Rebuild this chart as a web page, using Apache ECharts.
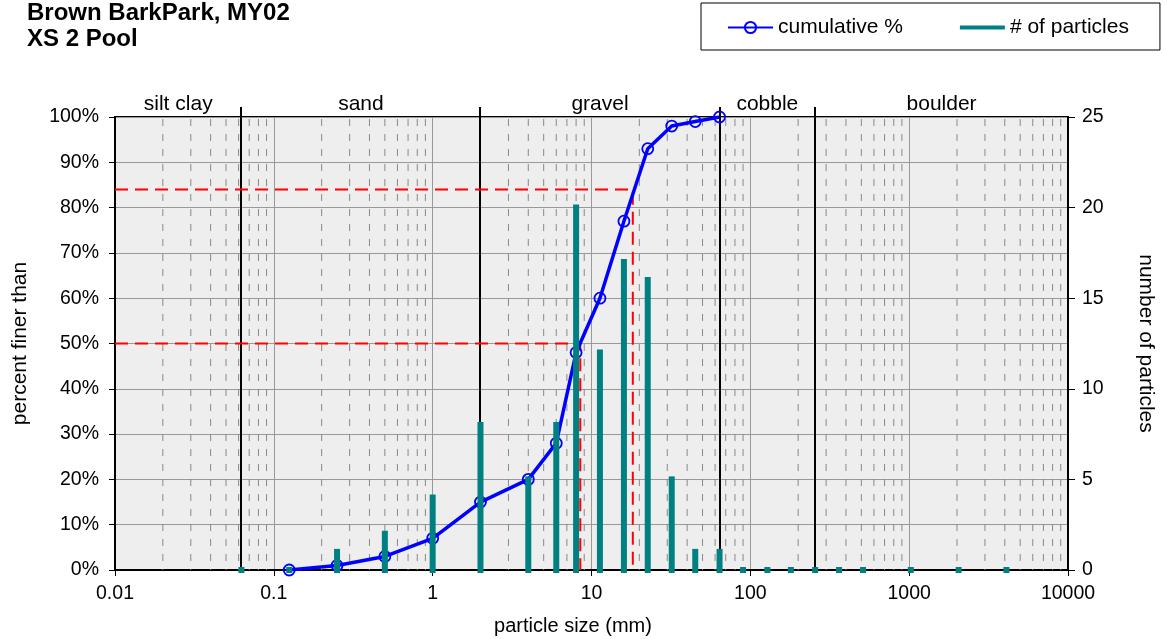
<!DOCTYPE html>
<html>
<head>
<meta charset="utf-8">
<script src="https://cdn.jsdelivr.net/npm/echarts@6/dist/echarts.min.js"></script>
<style>
html,body{margin:0;padding:0;background:#fff;}
#chart{width:1167px;height:639px;}
</style>
</head>
<body>
<div id="chart"></div>
<script>
// ---- data ----
const titleLines = ['Brown BarkPark, MY02', 'XS 2 Pool'];
const sizes = [0.0625, 0.125, 0.25, 0.5, 1, 2, 4, 6, 8, 11.3, 16, 22.6, 32, 45, 64, 90, 128, 180, 256, 362, 512, 1024, 2048, 4096];
const counts = [0, 0, 1, 2, 4, 8, 5, 8, 20, 12, 17, 16, 5, 1, 1, 0, 0, 0, 0, 0, 0, 0, 0, 0];
const cumSizes = [0.125, 0.25, 0.5, 1, 2, 4, 6, 8, 11.3, 16, 22.6, 32, 45, 64];
const cumPct = [0, 1, 3, 7, 15, 20, 28, 48, 60, 77, 93, 98, 99, 100];
const d50 = 8.5, d84 = 18.2;
const classNames = ['silt clay', 'sand', 'gravel', 'cobble', 'boulder'];
const classBounds = [0.01, 0.0625, 2, 64, 256, 10000];
const xTickLabels = ['0.01', '0.1', '1', '10', '100', '1000', '10000'];
const leftTickLabels = ['0%', '10%', '20%', '30%', '40%', '50%', '60%', '70%', '80%', '90%', '100%'];
const rightTickLabels = ['0', '5', '10', '15', '20', '25'];
const decades = [0.01, 0.1, 1, 10, 100, 1000];
const minorMultipliers = [2, 3, 4, 5, 6, 7, 8, 9];

const FONT = '"Liberation Sans", Arial, sans-serif';
const minorGrid = [];
decades.forEach(d => minorMultipliers.forEach(m => minorGrid.push([+(d * m).toPrecision(3)])));

const chart = echarts.init(document.getElementById('chart'), null, {renderer: 'canvas'});

const option = {
  backgroundColor: '#ffffff',
  animation: false,
  textStyle: {fontFamily: FONT, color: '#000'},
  title: {
    text: titleLines.join('\n'),
    left: 27, top: 0, padding: 0,
    textStyle: {fontFamily: FONT, fontSize: 24, fontWeight: 'bold', color: '#000', lineHeight: 26}
  },
  legend: {
    left: 701, top: 3,
    padding: [14, 31, 12, 26],
    itemGap: 57, itemWidth: 45, itemHeight: 14,
    borderColor: '#000', borderWidth: 1, backgroundColor: '#fff',
    textStyle: {fontFamily: FONT, fontSize: 21, color: '#000'},
    data: [
      {name: 'cumulative %'},
      {name: '# of particles', icon: 'path://M0 0H45V4H0Z', itemStyle: {color: '#008080'}}
    ]
  },
  grid: {
    left: 115, top: 117, right: 99, bottom: 69,
    show: true, backgroundColor: '#eeeeee', borderColor: '#000', borderWidth: 2,
    containLabel: false, outerBoundsMode: 'none'
  },
  xAxis: {
    type: 'log', logBase: 10, min: 0.01, max: 10000,
    name: 'particle size (mm)', nameLocation: 'middle', nameGap: 46,
    nameTextStyle: {fontFamily: FONT, fontSize: 20, color: '#000', padding: [0, 37, 0, 0]},
    axisLine: {lineStyle: {color: '#000', width: 2}},
    axisTick: {show: true, length: 6, lineStyle: {color: '#000', width: 1}},
    axisLabel: {fontFamily: FONT, fontSize: 19.5, color: '#000', margin: 14,
      formatter: (v, i) => xTickLabels[i]},
    splitLine: {show: true, lineStyle: {color: '#999', width: 1}},
    minorTick: {show: false}, minorSplitLine: {show: false}
  },
  yAxis: [
    {
      type: 'value', min: 0, max: 100, interval: 10,
      name: 'percent finer than', nameLocation: 'middle', nameGap: 84, nameRotate: 90,
      nameTextStyle: {fontFamily: FONT, fontSize: 21, color: '#000'},
      axisLine: {show: true, lineStyle: {color: '#000', width: 2}},
      axisTick: {show: true, length: 6, lineStyle: {color: '#000', width: 1}},
      axisLabel: {fontFamily: FONT, fontSize: 19.5, color: '#000', margin: 16,
        formatter: (v, i) => leftTickLabels[i]},
      splitLine: {show: true, lineStyle: {color: '#999', width: 1}}
    },
    {
      type: 'value', min: 0, max: 25, interval: 5, position: 'right',
      name: 'number of particles', nameLocation: 'middle', nameGap: 67, nameRotate: -90,
      nameTextStyle: {fontFamily: FONT, fontSize: 21, color: '#000'},
      axisLine: {show: true, lineStyle: {color: '#000', width: 2}},
      axisTick: {show: true, length: 7, lineStyle: {color: '#000', width: 1}},
      axisLabel: {fontFamily: FONT, fontSize: 19.5, color: '#000', margin: 14,
        formatter: (v, i) => rightTickLabels[i]},
      splitLine: {show: false}
    }
  ],
  series: [
    {
      name: 'minorGrid', type: 'custom', silent: true, z: 1, clip: true,
      data: minorGrid,
      renderItem: (params, api) => {
        const x = api.value(0);
        const top = api.coord([x, 100]);
        const bot = api.coord([x, 0]);
        return {type: 'line', shape: {x1: top[0], y1: top[1] + 2, x2: bot[0], y2: bot[1]},
          style: {stroke: '#888', lineWidth: 1, lineDash: [7, 8]}};
      }
    },
    {
      name: 'classBounds', type: 'custom', silent: true, z: 3, clip: false,
      data: classBounds.slice(1, -1).map(v => [v]),
      renderItem: (params, api) => {
        const x = api.value(0);
        const top = api.coord([x, 102.2]);
        const bot = api.coord([x, 0]);
        return {type: 'line', shape: {x1: Math.round(top[0]), y1: top[1], x2: Math.round(bot[0]), y2: bot[1]},
          style: {stroke: '#000', lineWidth: 2}};
      }
    },
    {
      name: 'classLabels', type: 'custom', silent: true, z: 3, clip: false,
      data: classNames.map((n, i) => [classBounds[i], classBounds[i + 1]]),
      renderItem: (params, api) => {
        const a = api.coord([api.value(0), 100]);
        const b = api.coord([api.value(1), 100]);
        return {type: 'text', style: {text: classNames[params.dataIndex], x: (a[0] + b[0]) / 2, y: a[1] - 13,
          textAlign: 'center', textVerticalAlign: 'middle', fill: '#000', font: '21px ' + FONT}};
      }
    },
    {
      name: 'D50', type: 'line', z: 4, symbol: 'none', silent: true,
      data: [[0.01, 50], [d50, 50], [d50, 0]],
      lineStyle: {color: '#ff0000', width: 2, type: [13, 7]}
    },
    {
      name: 'D84', type: 'line', z: 4, symbol: 'none', silent: true,
      data: [[0.01, 84], [d84, 84], [d84, 0]],
      lineStyle: {color: '#ff0000', width: 2, type: [13, 7]}
    },
    {
      name: 'cumulative %', type: 'line', z: 5,
      data: cumSizes.map((s, i) => [s, cumPct[i]]),
      symbol: 'circle', symbolSize: 11,
      lineStyle: {color: '#0000ff', width: 3.5},
      itemStyle: {color: 'rgba(0,0,0,0)', borderColor: '#0000ff', borderWidth: 1.8}
    },
    {
      name: '# of particles', type: 'custom', z: 6, yAxisIndex: 1, clip: false,
      itemStyle: {color: '#008080'},
      data: sizes.map((s, i) => [s, counts[i]]),
      renderItem: (params, api) => {
        const topP = api.coord([api.value(0), api.value(1)]);
        const base = api.coord([api.value(0), 0]);
        const w = 6, cap = 3;
        return {type: 'rect', shape: {x: topP[0] - w / 2, y: topP[1] - cap, width: w, height: base[1] - topP[1] + 2 * cap},
          style: {fill: '#008080'}};
      }
    }
  ]
};
chart.setOption(option);
</script>
</body>
</html>
